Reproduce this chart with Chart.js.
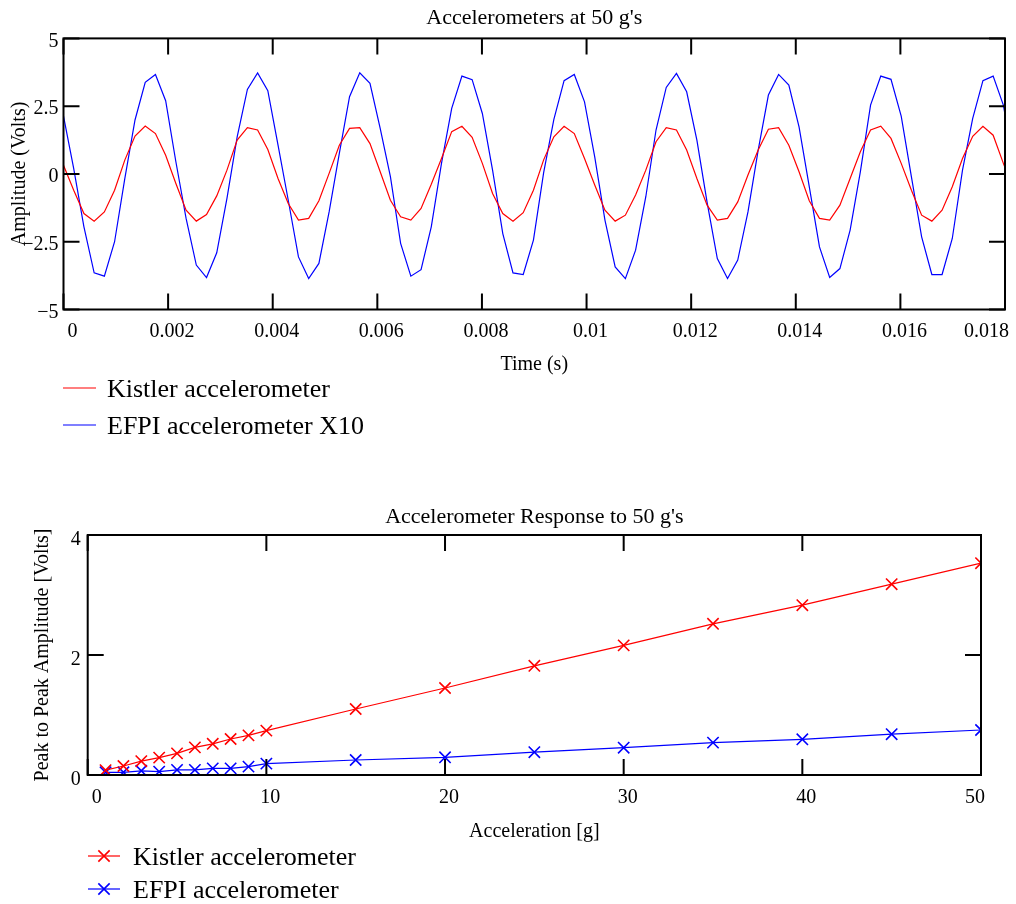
<!DOCTYPE html>
<html>
<head>
<meta charset="utf-8">
<title>Accelerometers at 50 g's</title>
<script src="https://cdn.jsdelivr.net/npm/chart.js@4.4.1/dist/chart.umd.min.js"></script>
<style>
  html, body { margin: 0; padding: 0; background: #fff; }
  #wrap { position: relative; width: 1016px; height: 904px; }
  canvas { position: absolute; left: 0; }
  #timeChart { top: 0; }
  #responseChart { top: 470px; }
</style>
</head>
<body>
<div id="wrap">
  <canvas id="timeChart" width="1016" height="470"></canvas>
  <canvas id="responseChart" width="1016" height="434"></canvas>
</div>
<script>
// Recorded waveforms at 50 g, sampled at 5120 samples/s
const sampleRate = 5120;

const kistlerVolts = [
  0.32, -0.60, -1.46, -1.74, -1.40, -0.60, 0.51, 1.40, 1.77, 1.49,
  0.69, -0.35, -1.34, -1.74, -1.50, -0.81, 0.14, 1.25, 1.71, 1.62,
  0.90, -0.17, -1.09, -1.70, -1.64, -0.99, 0.02, 1.06, 1.68, 1.71,
  1.12, 0.08, -0.97, -1.58, -1.70, -1.27, -0.38, 0.57, 1.56, 1.76,
  1.35, 0.39, -0.72, -1.46, -1.74, -1.43, -0.60, 0.52, 1.37, 1.76,
  1.49, 0.57, -0.41, -1.34, -1.74, -1.52, -0.78, 0.14, 1.19, 1.71,
  1.62, 0.88, -0.17, -1.15, -1.70, -1.64, -1.03, -0.04, 0.88, 1.65,
  1.71, 1.06, 0.08, -0.99, -1.64, -1.70, -1.15, -0.17, 0.82, 1.62,
  1.76, 1.31, 0.39, -0.60, -1.52, -1.74, -1.34, -0.47, 0.57, 1.39,
  1.76, 1.43, 0.39, -0.60
];

// EFPI output, already multiplied by 10
const efpiVolts = [
  2.13, 0.20, -1.95, -3.65, -3.77, -2.50, -0.17, 1.99, 3.38, 3.67,
  2.70, 0.45, -1.64, -3.36, -3.82, -2.91, -0.90, 1.37, 3.12, 3.73,
  3.07, 1.06, -0.97, -3.06, -3.86, -3.30, -1.40, 0.76, 2.85, 3.73,
  3.34, 1.68, -0.10, -2.56, -3.77, -3.53, -1.95, 0.39, 2.42, 3.61,
  3.48, 2.23, 0.14, -2.20, -3.65, -3.71, -2.44, 0.05, 2.01, 3.44,
  3.67, 2.66, 0.63, -1.70, -3.43, -3.86, -2.81, -0.84, 1.62, 3.19,
  3.71, 3.03, 1.25, -1.05, -3.12, -3.86, -3.18, -1.40, 0.88, 2.91,
  3.67, 3.28, 1.74, -0.47, -2.69, -3.82, -3.49, -2.07, 0.08, 2.54,
  3.61, 3.49, 2.13, -0.11, -2.32, -3.71, -3.71, -2.38, 0.14, 2.05,
  3.44, 3.61, 2.54, 0.40
];

// Peak to peak amplitude against applied acceleration
const accelG = [1, 2, 3, 4, 5, 6, 7, 8, 9, 10, 15, 20, 25, 30, 35, 40, 45, 50];
const kistlerP2P = [0.08, 0.15, 0.23, 0.29, 0.36, 0.46, 0.52, 0.60, 0.66, 0.74,
  1.10, 1.45, 1.82, 2.16, 2.52, 2.83, 3.18, 3.53];
const efpiP2P = [0.045, 0.045, 0.07, 0.055, 0.085, 0.085, 0.11, 0.11, 0.14, 0.19,
  0.25, 0.295, 0.38, 0.455, 0.54, 0.595, 0.68, 0.75];

const timeTicks = [0, 0.002, 0.004, 0.006, 0.008, 0.01, 0.012, 0.014, 0.016, 0.018];
const voltTicks = [-5, -2.5, 0, 2.5, 5];
const accelTicks = [0, 10, 20, 30, 40, 50];
const p2pTicks = [0, 2, 4];

const SERIF = "'Liberation Serif', 'Times New Roman', Times, serif";
Chart.defaults.font.family = SERIF;
Chart.defaults.color = "#000";

const minus = (v) => (v < 0 ? "\u2212" + Math.abs(v) : String(v));
const useTicks = (list) => (scale) => {
  scale.ticks = list.map((value) => ({ value }));
};

// Box round the plot area with tick marks pointing inwards on all four sides
const framePlugin = {
  id: "frame",
  afterDatasetsDraw(chart) {
    const { ctx, chartArea: a, scales } = chart;
    const len = 16;
    ctx.save();
    ctx.strokeStyle = "#000";
    ctx.lineWidth = 2;
    ctx.beginPath();
    scales.x.ticks.forEach((t) => {
      const px = scales.x.getPixelForValue(t.value);
      ctx.moveTo(px, a.bottom);
      ctx.lineTo(px, a.bottom - len);
      ctx.moveTo(px, a.top);
      ctx.lineTo(px, a.top + len);
    });
    scales.y.ticks.forEach((t) => {
      const py = scales.y.getPixelForValue(t.value);
      ctx.moveTo(a.left, py);
      ctx.lineTo(a.left + len, py);
      ctx.moveTo(a.right, py);
      ctx.lineTo(a.right - len, py);
    });
    ctx.stroke();
    ctx.strokeRect(a.left, a.top, a.right - a.left, a.bottom - a.top);
    ctx.restore();
  },
};

// Legend written one entry per row under the x axis title
const stackedLegend = {
  id: "stackedLegend",
  afterDraw(chart, args, opts) {
    const { ctx } = chart;
    ctx.save();
    ctx.font = opts.font;
    ctx.textBaseline = "middle";
    ctx.textAlign = "left";
    chart.data.datasets.forEach((ds, i) => {
      const y = opts.top + i * opts.rowHeight;
      ctx.strokeStyle = ds.borderColor;
      ctx.lineWidth = ds.borderWidth;
      ctx.beginPath();
      ctx.moveTo(opts.left, y);
      ctx.lineTo(opts.left + opts.sampleWidth, y);
      ctx.stroke();
      if (ds.pointStyle && ds.pointRadius > 0) {
        ctx.lineWidth = ds.pointBorderWidth;
        Chart.helpers.drawPoint(ctx, {
          pointStyle: ds.pointStyle,
          radius: ds.pointRadius,
          borderWidth: ds.pointBorderWidth,
          rotation: 0,
        }, opts.left + opts.sampleWidth / 2, y);
      }
      ctx.fillStyle = "#000";
      ctx.fillText(ds.label, opts.left + opts.sampleWidth + opts.gap, y + 2);
    });
    ctx.restore();
  },
};

const baseOptions = {
  responsive: false,
  animation: false,
  devicePixelRatio: 1,
  events: [],
};

new Chart(document.getElementById("timeChart"), {
  type: "line",
  data: {
    datasets: [
      {
        label: "Kistler accelerometer",
        data: kistlerVolts.map((v, i) => ({ x: i / sampleRate, y: v })),
        borderColor: "#ff0000",
        borderWidth: 1.2,
        pointRadius: 0,
        clip: 0,
      },
      {
        label: "EFPI accelerometer X10",
        data: efpiVolts.map((v, i) => ({ x: i / sampleRate, y: v })),
        borderColor: "#0000ff",
        borderWidth: 1.2,
        pointRadius: 0,
        clip: 0,
      },
    ],
  },
  options: {
    ...baseOptions,
    layout: { padding: { left: 0, right: 11, top: 0, bottom: 93 } },
    scales: {
      x: {
        type: "linear",
        min: 0,
        max: 0.018,
        afterBuildTicks: useTicks(timeTicks),
        afterFit: (s) => {
          s.height = 67.5;
          s.paddingLeft = 0;
          s.paddingRight = 0;
        },
        grid: { display: false, drawTicks: false },
        border: { display: false },
        ticks: {
          align: "inner",
          labelOffset: 4,
          padding: 10,
          maxRotation: 0,
          font: { size: 20 },
          callback: (v) => String(+v.toFixed(4)),
        },
        title: { display: true, text: "Time (s)", font: { size: 20 }, padding: 0 },
      },
      y: {
        min: -5,
        max: 5,
        afterBuildTicks: useTicks(voltTicks),
        afterFit: (s) => {
          s.width = 63.5;
        },
        grid: { display: false, drawTicks: false },
        border: { display: false },
        ticks: { padding: 5, labelOffset: 3, font: { size: 20 }, callback: minus },
        title: {
          display: true,
          text: "Amplitude (Volts)",
          font: { size: 20 },
          padding: { top: 8, bottom: 0 },
        },
      },
    },
    plugins: {
      legend: { display: false },
      tooltip: { enabled: false },
      title: {
        display: true,
        text: "Accelerometers at 50 g's",
        fullSize: false,
        color: "#000",
        font: { size: 22, weight: "normal" },
        padding: { top: 5, bottom: 7 },
      },
      stackedLegend: {
        left: 63,
        top: 388,
        rowHeight: 37,
        sampleWidth: 33,
        gap: 11,
        font: "26px " + SERIF,
      },
    },
  },
  plugins: [framePlugin, stackedLegend],
});

new Chart(document.getElementById("responseChart"), {
  type: "line",
  data: {
    datasets: [
      {
        label: "Kistler accelerometer",
        data: accelG.map((g, i) => ({ x: g, y: kistlerP2P[i] })),
        borderColor: "#ff0000",
        borderWidth: 1.2,
        pointStyle: "crossRot",
        pointRadius: 8,
        pointBorderWidth: 1.6,
        pointBorderColor: "#ff0000",
        pointBackgroundColor: "transparent",
        clip: 0,
      },
      {
        label: "EFPI accelerometer",
        data: accelG.map((g, i) => ({ x: g, y: efpiP2P[i] })),
        borderColor: "#0000ff",
        borderWidth: 1.2,
        pointStyle: "crossRot",
        pointRadius: 8,
        pointBorderWidth: 1.6,
        pointBorderColor: "#0000ff",
        pointBackgroundColor: "transparent",
        clip: 0,
      },
    ],
  },
  options: {
    ...baseOptions,
    layout: { padding: { left: 0, right: 35, top: 0, bottom: 60 } },
    scales: {
      x: {
        type: "linear",
        min: 0,
        max: 50,
        afterBuildTicks: useTicks(accelTicks),
        afterFit: (s) => {
          s.height = 69;
          s.paddingLeft = 0;
          s.paddingRight = 0;
        },
        grid: { display: false, drawTicks: false },
        border: { display: false },
        ticks: { align: "inner", labelOffset: 4, padding: 11, maxRotation: 0, font: { size: 20 } },
        title: { display: true, text: "Acceleration [g]", font: { size: 20 }, padding: 0 },
      },
      y: {
        min: 0,
        max: 4,
        afterBuildTicks: useTicks(p2pTicks),
        afterFit: (s) => {
          s.width = 87.7;
        },
        grid: { display: false, drawTicks: false },
        border: { display: false },
        ticks: { padding: 7, labelOffset: 5, font: { size: 20 } },
        title: {
          display: true,
          text: "Peak to Peak Amplitude [Volts]",
          font: { size: 20 },
          padding: { top: 30.5, bottom: 0 },
        },
      },
    },
    plugins: {
      legend: { display: false },
      tooltip: { enabled: false },
      title: {
        display: true,
        text: "Accelerometer Response to 50 g's",
        fullSize: false,
        color: "#000",
        font: { size: 22, weight: "normal" },
        padding: { top: 34.5, bottom: 4.1 },
      },
      stackedLegend: {
        left: 88,
        top: 386,
        rowHeight: 33,
        sampleWidth: 32,
        gap: 13,
        font: "26px " + SERIF,
      },
    },
  },
  plugins: [framePlugin, stackedLegend],
});
</script>
</body>
</html>
